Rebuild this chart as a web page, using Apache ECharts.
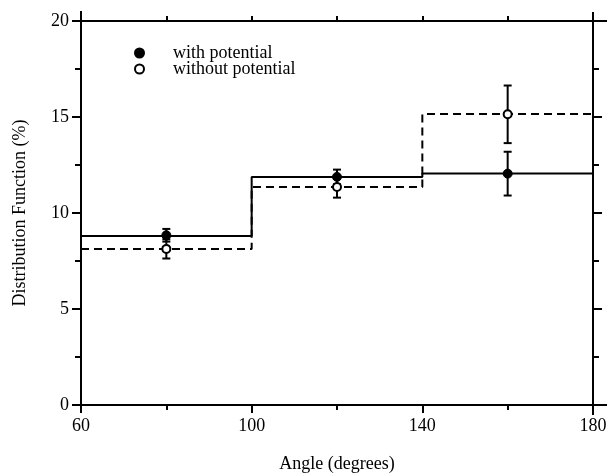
<!DOCTYPE html>
<html>
<head>
<meta charset="utf-8">
<script src="https://cdn.jsdelivr.net/npm/echarts@6/dist/echarts.min.js"></script>
<style>html,body{margin:0;padding:0;background:#fff}#c{width:607px;height:475px}</style>
</head>
<body>
<div id="c"></div>
<script>
// ---- data ----
const binEdges = [60, 100, 140, 180];
const withStep = [8.80, 11.88, 12.06];
const withoutStep = [8.12, 11.35, 15.15];
const angles = [80, 120, 160];
const withPts = [8.84, 11.88, 12.05];
const withErr = [0.33, 0.38, 1.14];
const withoutPts = [8.13, 11.35, 15.14];
const withoutErr = [0.50, 0.55, 1.50];
const xLabelValues = [60, 100, 140, 180];
const xMinorValues = [80, 120, 160];
const seriesNames = ['with potential', 'without potential'];
const xName = 'Angle (degrees)';
const yName = 'Distribution Function (%)';

const FONT = '"Liberation Serif", "Times New Roman", serif';
const stepData = vals => binEdges.map((e, i) => [e, vals[Math.min(i, vals.length - 1)]]);
const errData = (pts, err) => angles.map((a, i) => [a, pts[i] - err[i], pts[i] + err[i]]);

function errRender(params, api) {
  const x = api.value(0);
  const lo = api.coord([x, api.value(1)]);
  const hi = api.coord([x, api.value(2)]);
  const cap = 4;
  const st = { stroke: '#000', lineWidth: 2 };
  return {
    type: 'group',
    children: [
      { type: 'line', shape: { x1: lo[0], y1: lo[1], x2: hi[0], y2: hi[1] }, style: st },
      { type: 'line', shape: { x1: lo[0] - cap, y1: lo[1], x2: lo[0] + cap, y2: lo[1] }, style: st },
      { type: 'line', shape: { x1: hi[0] - cap, y1: hi[1], x2: hi[0] + cap, y2: hi[1] }, style: st }
    ]
  };
}

const axisLine = { show: true, lineStyle: { color: '#000', width: 2 } };
const chart = echarts.init(document.getElementById('c'), null, { renderer: 'canvas' });
chart.setOption({
  animation: false,
  backgroundColor: '#fff',
  grid: { left: 81, right: 14, top: 21, bottom: 70, containLabel: false, outerBoundsMode: 'none' },
  legend: {
    data: seriesNames,
    orient: 'vertical',
    left: 129, top: 39,
    itemWidth: 9, itemHeight: 9, itemGap: -2,
    textStyle: { fontFamily: FONT, fontSize: 18, lineHeight: 14, color: '#000', padding: [0, 0, 0, 24] }
  },
  xAxis: [
    {
      type: 'value', position: 'bottom', min: 60, max: 180, interval: 20,
      axisLine: axisLine,
      axisTick: { show: true, inside: false, length: 8, lineStyle: { color: '#000', width: 2 }, customValues: xLabelValues },
      axisLabel: { show: true, customValues: xLabelValues, margin: 12, fontFamily: FONT, fontSize: 18, color: '#000' },
      splitLine: { show: false },
      name: xName, nameLocation: 'middle', nameGap: 50,
      nameTextStyle: { fontFamily: FONT, fontSize: 18, color: '#000' }
    },
    {
      type: 'value', position: 'bottom', min: 60, max: 180, interval: 20,
      axisLine: { show: false },
      axisTick: { show: true, inside: false, length: 5, lineStyle: { color: '#000', width: 2 }, customValues: xMinorValues },
      axisLabel: { show: false },
      splitLine: { show: false }
    },
    {
      type: 'value', position: 'top', min: 60, max: 180, interval: 20,
      axisLine: axisLine,
      axisTick: { show: true, inside: false, length: 5, lineStyle: { color: '#000', width: 2 } },
      axisLabel: { show: false },
      splitLine: { show: false }
    }
  ],
  yAxis: [
    {
      type: 'value', position: 'left', min: 0, max: 20, interval: 5,
      axisLine: axisLine,
      axisTick: { show: true, inside: false, length: 9, lineStyle: { color: '#000', width: 2 } },
      minorTick: { show: true, splitNumber: 2, length: 6, lineStyle: { color: '#000', width: 2 } },
      axisLabel: { show: true, margin: 12, fontFamily: FONT, fontSize: 18, color: '#000' },
      splitLine: { show: false },
      name: yName, nameLocation: 'middle', nameGap: 52, nameRotate: 90,
      nameTextStyle: { fontFamily: FONT, fontSize: 18, color: '#000' }
    },
    {
      type: 'value', position: 'right', min: 0, max: 20, interval: 5,
      axisLine: axisLine,
      axisTick: { show: true, inside: false, length: 9, lineStyle: { color: '#000', width: 2 } },
      minorTick: { show: true, splitNumber: 2, length: 6, lineStyle: { color: '#000', width: 2 } },
      axisLabel: { show: false },
      splitLine: { show: false }
    }
  ],
  series: [
    {
      name: 'with step', type: 'line', step: 'end', data: stepData(withStep),
      symbol: 'none', lineStyle: { color: '#000', width: 2, type: 'solid' }, z: 2
    },
    {
      name: 'without step', type: 'line', step: 'end', data: stepData(withoutStep),
      symbol: 'none', lineStyle: { color: '#000', width: 2, type: [8, 5] }, z: 2
    },
    { name: 'with err', type: 'custom', renderItem: errRender, data: errData(withPts, withErr), z: 3 },
    { name: 'without err', type: 'custom', renderItem: errRender, data: errData(withoutPts, withoutErr), z: 3 },
    {
      name: seriesNames[0], type: 'scatter', data: angles.map((a, i) => [a, withPts[i]]),
      symbol: 'circle', symbolSize: 9, itemStyle: { color: '#000', borderColor: '#000', borderWidth: 1, opacity: 1 }, z: 5
    },
    {
      name: seriesNames[1], type: 'scatter', data: angles.map((a, i) => [a, withoutPts[i]]),
      symbol: 'circle', symbolSize: 8, itemStyle: { color: '#fff', borderColor: '#000', borderWidth: 2, opacity: 1 }, z: 5
    }
  ]
});

// extend frame lines beyond the plot area like in the original figure
const pTL = chart.convertToPixel({ gridIndex: 0 }, [60, 20]);
const pBR = chart.convertToPixel({ gridIndex: 0 }, [180, 0]);
const ls = { stroke: '#000', lineWidth: 2 };
chart.setOption({
  graphic: [
    { type: 'line', shape: { x1: pBR[0], y1: pTL[1], x2: 607, y2: pTL[1] }, style: ls },
    { type: 'line', shape: { x1: pBR[0], y1: pBR[1], x2: 607, y2: pBR[1] }, style: ls },
    { type: 'line', shape: { x1: pBR[0], y1: pTL[1] - 9, x2: pBR[0], y2: pBR[1] + 10 }, style: ls },
    { type: 'line', shape: { x1: pTL[0], y1: pTL[1] - 10, x2: pTL[0], y2: pTL[1] }, style: ls }
  ]
});
</script>
</body>
</html>
